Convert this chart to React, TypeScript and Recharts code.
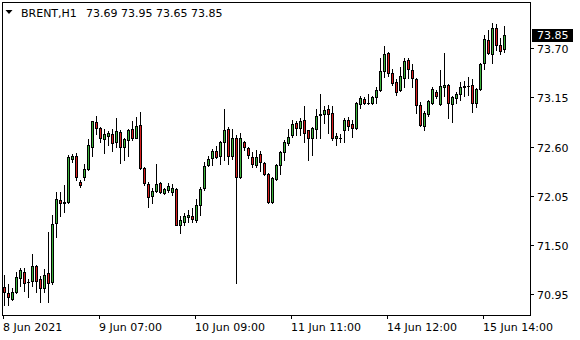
import { ComposedChart, Bar, XAxis, YAxis, ReferenceLine } from "recharts"

const symbol = "BRENT,H1"

// hourly bars, left to right
const open = [
  71.03, 70.97, 70.9, 70.98, 71.13, 71.2, 71.09, 71.1, 71.27, 71.12,
  71.02, 71.19, 71.09, 71.75, 72.0, 71.97, 71.98, 72.46, 72.5, 72.2,
  72.26, 72.35, 72.6, 72.87, 72.81, 72.68, 72.72, 72.74, 72.65, 72.76,
  72.59, 72.67, 72.8, 72.7, 72.84, 72.36, 72.18, 72.05, 72.1, 72.19,
  72.08, 72.12, 72.09, 72.13, 71.73, 71.76, 71.81, 71.83, 71.78, 71.95,
  72.14, 72.39, 72.47, 72.55, 72.49, 72.65, 72.8, 72.49, 72.69, 72.26,
  72.65, 72.58, 72.48, 72.39, 72.52, 72.42, 72.29, 71.98, 72.24, 72.39,
  72.54, 72.64, 72.73, 72.86, 72.81, 72.9, 72.78, 72.7, 72.8, 72.95,
  72.96, 73.02, 72.97, 72.69, 72.7, 72.79, 72.9, 72.85, 72.81, 73.08,
  73.13, 73.09, 73.09, 73.15, 73.23, 73.44, 73.64, 73.42, 73.32, 73.23,
  73.37, 73.57, 73.45, 73.35, 73.06, 72.83, 72.96, 73.09, 73.21, 73.07,
  73.27, 73.29, 73.08, 73.14, 73.19, 73.26, 73.28, 73.29, 73.09, 73.24,
  73.53, 73.79, 73.63, 73.92, 73.73, 73.69,
]
const high = [
  71.17, 71.07, 71.02, 71.2, 71.24, 71.24, 71.12, 71.4, 71.28, 71.16,
  71.23, 71.65, 71.84, 72.09, 72.09, 72.17, 72.51, 72.52, 72.53, 72.23,
  72.41, 72.68, 72.89, 72.94, 72.82, 72.8, 72.77, 72.8, 72.92, 72.79,
  72.7, 72.8, 72.89, 72.93, 72.99, 72.37, 72.2, 72.14, 72.41, 72.2,
  72.14, 72.19, 72.18, 72.14, 71.82, 71.86, 71.89, 71.91, 72.02, 72.15,
  72.43, 72.5, 72.57, 72.61, 72.66, 73.02, 72.82, 72.8, 72.73, 72.75,
  72.66, 72.6, 72.54, 72.56, 72.55, 72.43, 72.31, 72.26, 72.41, 72.55,
  72.67, 72.8, 72.9, 72.88, 72.92, 73.05, 72.79, 72.82, 73.02, 73.19,
  73.05, 73.06, 73.05, 72.75, 72.74, 72.92, 72.93, 72.9, 73.1, 73.16,
  73.15, 73.19, 73.16, 73.27, 73.59, 73.72, 73.65, 73.47, 73.35, 73.49,
  73.59, 73.59, 73.52, 73.36, 73.1, 73.0, 73.12, 73.27, 73.23, 73.45,
  73.64, 73.3, 73.16, 73.21, 73.32, 73.33, 73.38, 73.35, 73.25, 73.53,
  73.85, 73.9, 73.98, 73.97, 73.81, 73.95,
]
const low = [
  70.83, 70.83, 70.89, 70.97, 71.04, 70.99, 70.92, 71.04, 70.98, 70.86,
  70.98, 70.86, 71.07, 71.59, 71.82, 71.87, 71.97, 72.43, 72.23, 72.15,
  72.23, 72.34, 72.5, 72.74, 72.65, 72.53, 72.62, 72.55, 72.59, 72.42,
  72.45, 72.49, 72.67, 72.69, 72.35, 72.17, 71.93, 71.97, 72.09, 72.08,
  72.07, 72.09, 72.06, 71.72, 71.63, 71.72, 71.76, 71.76, 71.76, 71.84,
  72.12, 72.38, 72.39, 72.47, 72.41, 72.45, 72.41, 72.46, 71.08, 72.25,
  72.56, 72.47, 72.37, 72.37, 72.33, 72.28, 71.97, 71.97, 72.23, 72.29,
  72.45, 72.62, 72.71, 72.73, 72.73, 72.65, 72.45, 72.51, 72.7, 72.7,
  72.86, 72.75, 72.67, 72.62, 72.65, 72.65, 72.78, 72.71, 72.8, 73.03,
  73.07, 73.07, 73.08, 73.09, 73.22, 73.38, 73.39, 73.29, 73.18, 73.22,
  73.27, 73.37, 73.27, 72.98, 72.83, 72.78, 72.94, 73.08, 73.14, 73.06,
  73.16, 72.92, 72.87, 73.09, 73.12, 73.16, 73.17, 72.99, 73.04, 73.23,
  73.47, 73.63, 73.53, 73.68, 73.63, 73.65,
]
const close = [
  70.98, 70.92, 70.98, 71.14, 71.22, 71.08, 71.09, 71.27, 71.1, 71.02,
  71.17, 71.08, 71.74, 72.02, 71.97, 71.98, 72.48, 72.49, 72.26, 72.17,
  72.35, 72.62, 72.88, 72.81, 72.69, 72.74, 72.75, 72.64, 72.77, 72.6,
  72.68, 72.78, 72.69, 72.83, 72.36, 72.19, 72.04, 72.1, 72.18, 72.09,
  72.13, 72.16, 72.14, 71.73, 71.78, 71.82, 71.84, 71.79, 71.95, 72.13,
  72.38, 72.46, 72.55, 72.48, 72.65, 72.79, 72.5, 72.69, 72.26, 72.69,
  72.59, 72.51, 72.41, 72.48, 72.43, 72.29, 71.98, 72.25, 72.39, 72.54,
  72.65, 72.71, 72.85, 72.81, 72.89, 72.75, 72.7, 72.81, 72.94, 72.96,
  73.01, 72.96, 72.69, 72.72, 72.7, 72.9, 72.83, 72.81, 73.09, 73.14,
  73.09, 73.09, 73.15, 73.23, 73.44, 73.63, 73.42, 73.31, 73.21, 73.39,
  73.56, 73.47, 73.36, 73.06, 72.84, 72.97, 73.11, 73.24, 73.16, 73.28,
  73.29, 73.09, 73.15, 73.19, 73.27, 73.28, 73.28, 73.09, 73.24, 73.52,
  73.8, 73.64, 73.92, 73.73, 73.67, 73.85,
]

// empty slots to the right of the last bar (chart shift)
const shiftSlots = 6

const timeTickSlots = [0, 24, 48, 72, 96, 120]
const timeTickLabels = [
  "8 Jun 2021",
  "9 Jun 07:00",
  "10 Jun 09:00",
  "11 Jun 11:00",
  "14 Jun 12:00",
  "15 Jun 14:00",
]
const priceTicks = [70.95, 71.5, 72.05, 72.6, 73.15, 73.7]

const FONT = "DejaVu Sans"
const BULL = "#3cb43c"
const BEAR = "#d81e1e"

const last = open.length - 1
const data = [
  ...open.map((o, i) => ({ slot: i, open: o, high: high[i], low: low[i], close: close[i] })),
  ...Array.from({ length: shiftSlots }, (_, k) => ({ slot: open.length + k })),
]

function Candle(props: any) {
  const { x, y, width, height, payload } = props
  if (!payload || payload.high == null) return null
  const { open: o, high: h, low: l, close: c } = payload
  const top = Math.min(y, y + height)
  const span = Math.abs(height)
  const row = (v: number) => Math.floor(top + ((h - v) / (h - l)) * span)
  const col = Math.floor(x + width / 2)
  const rT = row(Math.max(o, c))
  const rB = row(Math.min(o, c))
  return (
    <g shapeRendering="crispEdges">
      <line x1={col + 0.5} x2={col + 0.5} y1={row(h)} y2={row(l) + 1} stroke="#000" />
      {rB - rT < 1 ? (
        <line x1={col - 1} x2={col + 2} y1={rT + 0.5} y2={rT + 0.5} stroke="#000" />
      ) : (
        <rect x={col - 0.5} y={rT + 0.5} width={2} height={rB - rT} fill={c >= o ? BULL : BEAR} stroke="#000" />
      )}
    </g>
  )
}

function TimeTick({ x, y, payload }: any) {
  const k = timeTickSlots.indexOf(payload.value)
  if (k < 0) return null
  const col = Math.floor(x)
  return (
    <g>
      <line x1={col + 0.5} x2={col + 0.5} y1={y + 0.5} y2={y + 3.5} stroke="#000" shapeRendering="crispEdges" />
      <text x={col} y={y + 15.5} fontFamily={FONT} fontSize={11} fill="#000" textAnchor="start">
        {timeTickLabels[k]}
      </text>
    </g>
  )
}

function PriceTick({ x, y, payload }: any) {
  const r = Math.floor(y)
  return (
    <g>
      <line x1={x + 0.5} x2={x + 3.5} y1={r + 0.5} y2={r + 0.5} stroke="#000" shapeRendering="crispEdges" />
      <text x={x + 6.5} y={r + 5} fontFamily={FONT} fontSize={11} fill="#000" textAnchor="start">
        {Number(payload.value).toFixed(2)}
      </text>
    </g>
  )
}

function PriceTag({ viewBox }: any) {
  const r = Math.floor(viewBox.y)
  const x = viewBox.x + viewBox.width
  return (
    <g>
      <rect x={x + 1.5} y={r - 6} width={41} height={13} fill="#000" shapeRendering="crispEdges" />
      <text x={x + 6.5} y={r + 4} fontFamily={FONT} fontSize={11} fill="#fff" textAnchor="start">
        {close[last].toFixed(2)}
      </text>
    </g>
  )
}

export default function App() {
  return (
    <div style={{ position: "absolute", left: 0, top: 0, width: 580, height: 340, background: "#fff" }}>
      <ComposedChart
        width={580}
        height={340}
        data={data}
        margin={{ top: 2.5, right: 0, bottom: 0, left: 2.5 }}
      >
        <XAxis
          dataKey="slot"
          type="category"
          height={24.5}
          padding={{ left: -1, right: 1 }}
          interval={0}
          ticks={timeTickSlots}
          tick={<TimeTick />}
          tickLine={false}
          tickSize={0}
          tickMargin={0}
          axisLine={false}
        />
        <YAxis
          orientation="right"
          width={49.5}
          domain={[70.72, 74.2134]}
          allowDataOverflow
          type="number"
          ticks={priceTicks}
          interval={0}
          tick={<PriceTick />}
          tickLine={false}
          tickSize={0}
          tickMargin={0}
          axisLine={false}
        />
        <Bar
          dataKey={(d: any) => (d.high == null ? null : [d.low, d.high])}
          barSize={3}
          shape={<Candle />}
          isAnimationActive={false}
        />
        <ReferenceLine y={close[last]} stroke="none" label={<PriceTag />} />
      </ComposedChart>
      {/* chart frame */}
      <div
        style={{
          position: "absolute",
          left: 2,
          top: 2,
          width: 529,
          height: 314,
          border: "1px solid #000",
          boxSizing: "border-box",
          pointerEvents: "none",
        }}
      />
      <svg width={300} height={24} style={{ position: "absolute", left: 0, top: 0 }}>
        <polygon points="5.5,10 12.5,10 9,14" fill="#000" />
        <text x={21} y={17} fontFamily={FONT} fontSize={11} fill="#000">
          {symbol}
        </text>
        <text x={86} y={17} fontFamily={FONT} fontSize={11} fill="#000" xmlSpace="preserve">
          {[open[last], high[last], low[last], close[last]].map((v) => v.toFixed(2)).join(" ")}
        </text>
      </svg>
    </div>
  )
}
